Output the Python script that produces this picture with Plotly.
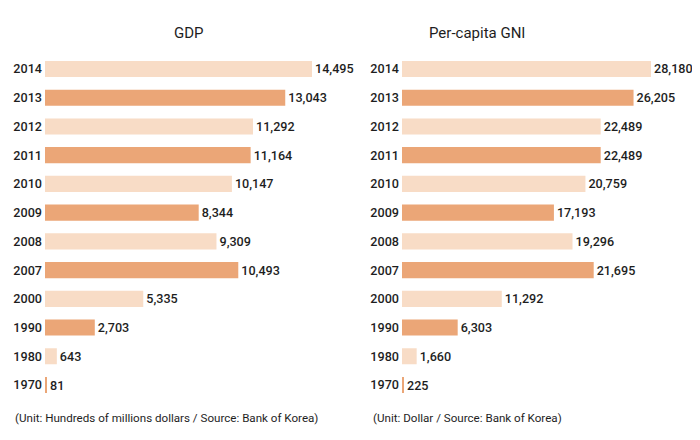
import plotly.graph_objects as go

years = ["2014", "2013", "2012", "2011", "2010", "2009", "2008", "2007", "2000", "1990", "1980", "1970"]
gdp = [14495, 13043, 11292, 11164, 10147, 8344, 9309, 10493, 5335, 2703, 643, 81]
gni = [28180, 26205, 22489, 22489, 20759, 17193, 19296, 21695, 11292, 6303, 1660, 225]
titles = ["GDP", "Per-capita GNI"]
notes = ["(Unit: Hundreds of millions dollars / Source: Bank of Korea)",
         "(Unit: Dollar / Source: Bank of Korea)"]

LIGHT = "#F8DCC6"
DARK = "#EBA677"
colors = [LIGHT if i % 2 == 0 else DARK for i in range(len(years))]
FONT = "Roboto"
TXT = "#1e1e1e"

# the page adds an 8px body margin; lay out in page pixels and shift
OFF = 8
W, H = 700 - OFF, 440 - 2 * OFF

def px(x):
    return (x - OFF) / W

def py(y):
    return 1 - (y - OFF) / H

fig = go.Figure()
for vals, xa, ya in ((gdp, "x", "y"), (gni, "x2", "y2")):
    fig.add_trace(go.Bar(y=years, x=vals, orientation="h",
                         marker=dict(color=colors, line=dict(width=0)),
                         texttemplate="%{x:,}", textposition="outside", cliponaxis=False,
                         textfont=dict(family=FONT, size=12.6, color=TXT, weight=500),
                         xaxis=xa, yaxis=ya, hoverinfo="skip"))

top, bottom = 54.6, 399.4
ydom = [py(bottom), py(top)]
lx0, lx1, lbar = 45, 345, 267
rx0, rx1, rbar = 402, 690, 249

def xaxis(dom, vmax, barlen, anchor):
    width = dom[1] - dom[0]
    return dict(domain=[px(dom[0]), px(dom[1])], range=[0, vmax * width / barlen],
                visible=False, fixedrange=True, anchor=anchor, automargin=False)

def yaxis(anchor):
    return dict(domain=ydom, range=[11.5, -0.5], type="category", categoryorder="array",
                categoryarray=years, showgrid=False, showline=False, zeroline=False,
                ticks="", ticklabelstandoff=2, automargin=False,
                tickfont=dict(family=FONT, size=12.6, color=TXT, weight=500),
                anchor=anchor)

fig.update_layout(
    width=W, height=H, margin=dict(l=0, r=0, t=0, b=0, autoexpand=False),
    paper_bgcolor="white", plot_bgcolor="white", showlegend=False, bargap=0.44,
    xaxis=xaxis((lx0, lx1), max(gdp), lbar, "y"),
    xaxis2=xaxis((rx0, rx1), max(gni), rbar, "y2"),
    yaxis=yaxis("x"),
    yaxis2=yaxis("x2"),
    font=dict(family=FONT, color=TXT),
)

fig.add_annotation(text=titles[0], x=px(172), y=py(33), xref="paper", yref="paper",
                   yanchor="middle", showarrow=False, font=dict(family=FONT, size=15, color=TXT))
fig.add_annotation(text=titles[1], x=px(527), y=py(33), xref="paper", yref="paper",
                   yanchor="middle", showarrow=False, font=dict(family=FONT, size=15, color=TXT))
fig.add_annotation(text=notes[0], x=px(13), y=py(418), xref="paper", yref="paper",
                   xanchor="left", yanchor="middle", showarrow=False,
                   font=dict(family=FONT, size=11.6, color=TXT))
fig.add_annotation(text=notes[1], x=px(371), y=py(418), xref="paper", yref="paper",
                   xanchor="left", yanchor="middle", showarrow=False,
                   font=dict(family=FONT, size=11.6, color=TXT))

fig.write_html("out.html")
